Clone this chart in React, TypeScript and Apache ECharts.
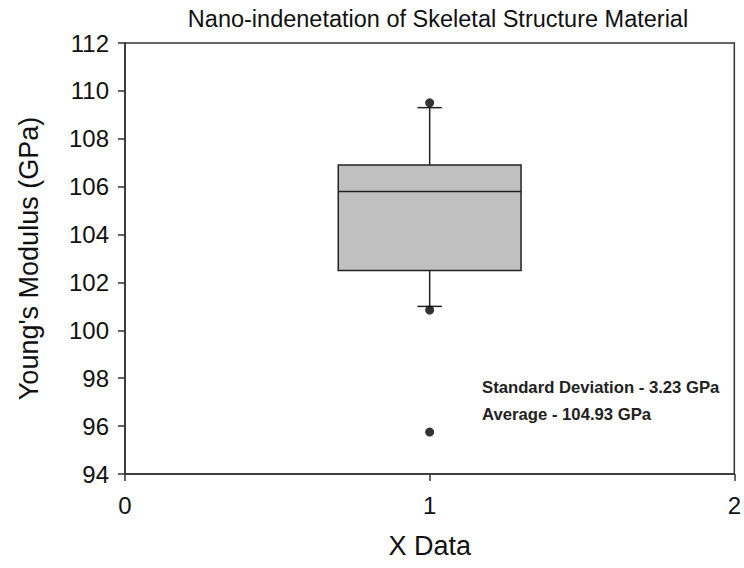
import React, { useEffect, useRef } from "react";
import * as echarts from "echarts";

// ---- data ----
const boxX = [1];
const lowWhisker = [101.0];
const q1 = [102.5];
const median = [105.8];
const q3 = [106.9];
const highWhisker = [109.3];
const outlierX = [1, 1, 1];
const outlierY = [109.5, 100.85, 95.75];
const yTicks = [94, 96, 98, 100, 102, 104, 106, 108, 110, 112];
const xTicks = [0, 1, 2];
const notes = ["Standard Deviation - 3.23 GPa", "Average - 104.93 GPa"];

const FONT = "Liberation Sans, Arial, sans-serif";

export default function App() {
  const ref = useRef<HTMLDivElement>(null);
  useEffect(() => {
    if (!ref.current) return;
    const chart = echarts.init(ref.current, undefined, { renderer: "svg" });
    const boxData = boxX.map((x, i) => [x, lowWhisker[i], q1[i], median[i], q3[i], highWhisker[i]]);
    const outData = outlierX.map((x, i) => [x, outlierY[i]]);
    const lineStyle = { stroke: "#222", lineWidth: 1.5 };
    chart.setOption({
      animation: false,
      backgroundColor: "#fff",
      title: {
        text: "Nano-indenetation of Skeletal Structure Material",
        left: 433,
        textAlign: "center",
        top: 2,
        textStyle: { fontFamily: FONT, fontSize: 23.5, fontWeight: "normal", color: "#111" },
      },
      grid: {
        left: 125,
        right: 8,
        top: 43,
        bottom: 94,
        show: true,
        borderColor: "#333",
        borderWidth: 1.5,
        backgroundColor: "transparent",
      },
      xAxis: {
        type: "value",
        min: xTicks[0],
        max: xTicks[xTicks.length - 1],
        interval: 1,
        name: "X Data",
        nameLocation: "middle",
        nameGap: 58,
        nameTextStyle: { fontFamily: FONT, fontSize: 27, color: "#111" },
        axisLine: { show: true, lineStyle: { color: "#333", width: 1.5 } },
        axisTick: { show: true, inside: false, length: 7, lineStyle: { color: "#333", width: 1.5 } },
        axisLabel: { fontFamily: FONT, fontSize: 24, color: "#111", margin: 19 },
        splitLine: { show: false },
      },
      yAxis: {
        type: "value",
        min: yTicks[0],
        max: yTicks[yTicks.length - 1],
        interval: 2,
        name: "Young's Modulus (GPa)",
        nameLocation: "middle",
        nameGap: 83,
        nameTextStyle: { fontFamily: FONT, fontSize: 27, color: "#111" },
        axisLine: { show: true, lineStyle: { color: "#333", width: 1.5 } },
        axisTick: { show: true, inside: false, length: 7, lineStyle: { color: "#333", width: 1.5 } },
        axisLabel: { fontFamily: FONT, fontSize: 24, color: "#111", margin: 16 },
        splitLine: { show: false },
      },
      graphic: notes.map((t, i) => ({
        type: "text",
        left: 482,
        top: 379 + i * 27,
        style: { text: t, fontFamily: FONT, fontSize: 16.7, fontWeight: "bold", fill: "#222" },
      })),
      series: [
        {
          type: "custom",
          data: boxData,
          encode: { x: 0, y: [1, 2, 3, 4, 5] },
          renderItem: (params: any, api: any) => {
            const x = api.value(0);
            const pLow = api.coord([x, api.value(1)]);
            const pQ1 = api.coord([x, api.value(2)]);
            const pMed = api.coord([x, api.value(3)]);
            const pQ3 = api.coord([x, api.value(4)]);
            const pHigh = api.coord([x, api.value(5)]);
            const half = api.size([0.6, 0])[0] / 2;
            const cap = api.size([0.08, 0])[0] / 2;
            const cx = pQ1[0];
            return {
              type: "group",
              children: [
                { type: "line", shape: { x1: cx, y1: pHigh[1], x2: cx, y2: pQ3[1] }, style: lineStyle },
                { type: "line", shape: { x1: cx, y1: pLow[1], x2: cx, y2: pQ1[1] }, style: lineStyle },
                { type: "line", shape: { x1: cx - cap, y1: pHigh[1], x2: cx + cap, y2: pHigh[1] }, style: lineStyle },
                { type: "line", shape: { x1: cx - cap, y1: pLow[1], x2: cx + cap, y2: pLow[1] }, style: lineStyle },
                {
                  type: "rect",
                  shape: { x: cx - half, y: pQ3[1], width: half * 2, height: pQ1[1] - pQ3[1] },
                  style: { fill: "#c0c0c0", stroke: "#222", lineWidth: 1.5 },
                },
                { type: "line", shape: { x1: cx - half, y1: pMed[1], x2: cx + half, y2: pMed[1] }, style: lineStyle },
              ],
            };
          },
        },
        {
          type: "scatter",
          data: outData,
          symbol: "circle",
          symbolSize: 9,
          itemStyle: { color: "#000" },
          z: 5,
        },
      ],
    });
    return () => chart.dispose();
  }, []);
  return (
    <div
      ref={ref}
      style={{ position: "fixed", left: 0, top: 0, width: 744, height: 568 }}
    />
  );
}
